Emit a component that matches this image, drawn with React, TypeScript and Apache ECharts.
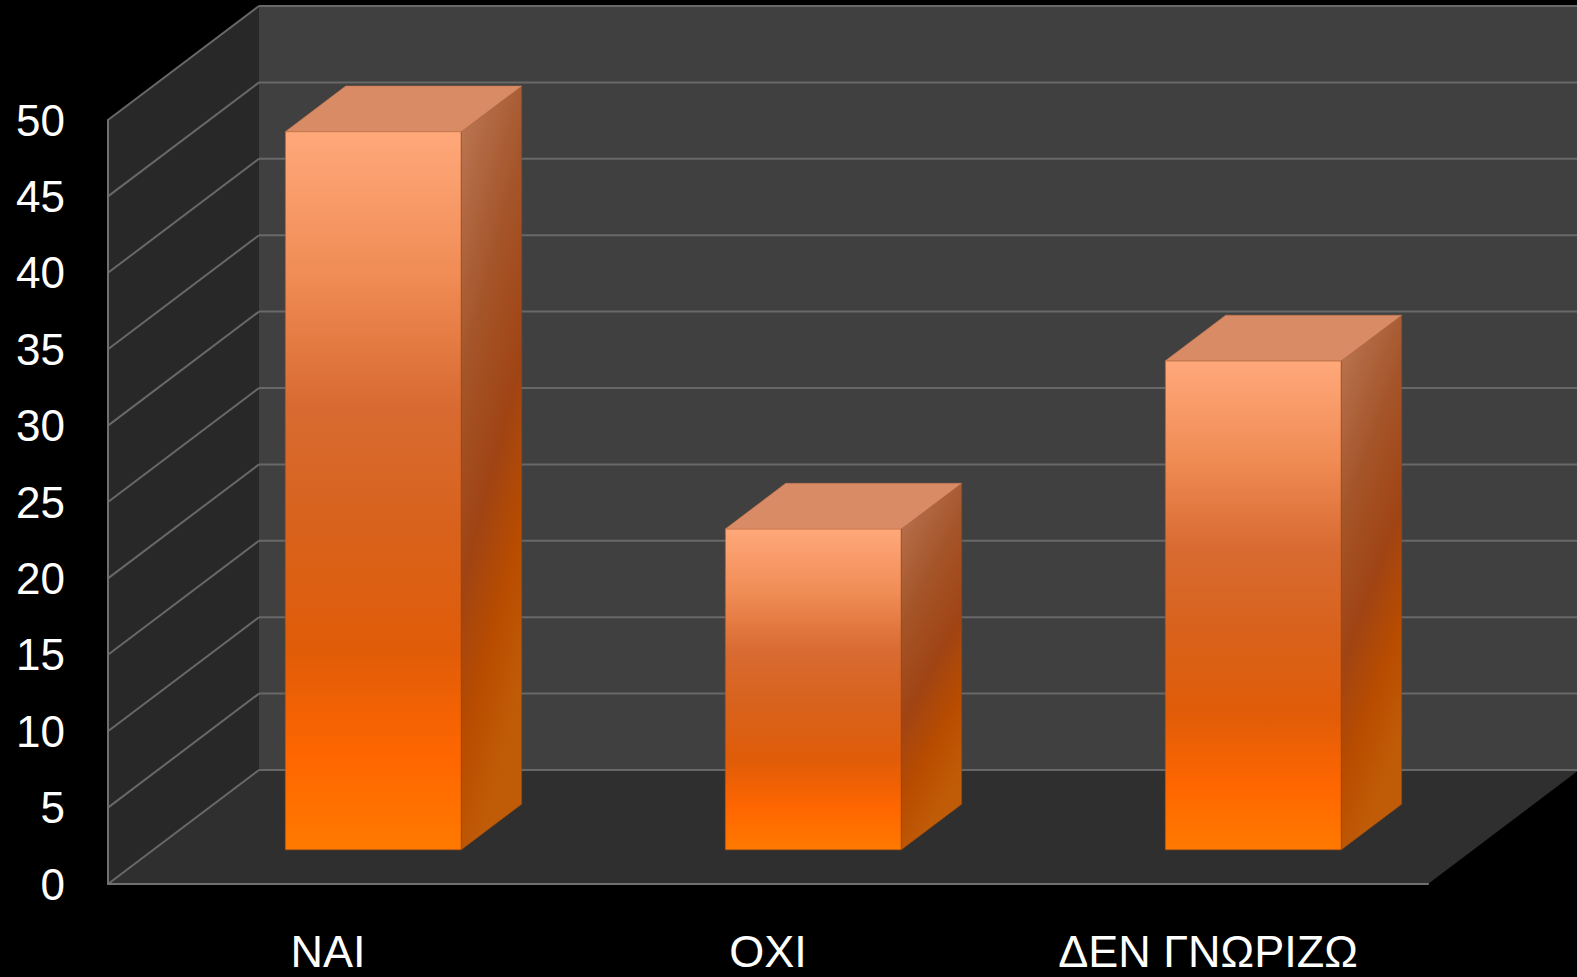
import React, { useEffect, useRef } from "react";
import * as echarts from "echarts";

const categories = ["NAI", "OXI", "ΔΕΝ ΓΝΩΡΙΖΩ"];
const values = [47, 21, 32];
const yTicks = [0, 5, 10, 15, 20, 25, 30, 35, 40, 45, 50];

const DX = 151;
const DY = -114;
const BAR_FRONT = 0.3;
const BAR_BACK = 0.7;
const BAR_WIDTH = 0.4;
const FONT = "'Liberation Sans', Arial, sans-serif";
const GRID_COLOR = "#686868";

export default function App() {
  const ref = useRef<HTMLDivElement>(null);

  useEffect(() => {
    if (!ref.current) return;
    const chart = echarts.init(ref.current, undefined, { renderer: "svg" });

    const frontGrad = () =>
      new echarts.graphic.LinearGradient(0, 0, 0, 1, [
        { offset: 0, color: "#FFA87A" },
        { offset: 0.2, color: "#F08C55" },
        { offset: 0.38, color: "#D86B32" },
        { offset: 0.55, color: "#D8621C" },
        { offset: 0.72, color: "#E05C08" },
        { offset: 0.87, color: "#FF6600" },
        { offset: 1, color: "#FF7A00" },
      ]);
    const sideGrad = () =>
      new echarts.graphic.LinearGradient(0, 0, 0.3, 1, [
        { offset: 0, color: "#BC7A58" },
        { offset: 0.35, color: "#A5552A" },
        { offset: 0.6, color: "#A04414" },
        { offset: 0.8, color: "#B84C00" },
        { offset: 1, color: "#C05C08" },
      ]);

    chart.setOption({
      animation: false,
      backgroundColor: "#000000",
      grid: { left: 108, right: 149, top: 120, bottom: 93, containLabel: false },
      xAxis: {
        type: "category",
        data: categories,
        boundaryGap: true,
        axisLine: { show: true, lineStyle: { color: "#707070", width: 2 } },
        axisTick: { show: false },
        splitLine: { show: false },
        axisLabel: {
          interval: 0,
          color: "#ffffff",
          fontSize: 45,
          lineHeight: 45,
          fontFamily: FONT,
          margin: 45,
        },
        z: 10,
      },
      yAxis: {
        type: "value",
        min: 0,
        max: 50,
        interval: 5,
        axisLine: { show: true, lineStyle: { color: "#707070", width: 2 } },
        axisTick: { show: false },
        splitLine: { show: false },
        axisLabel: {
          color: "#ffffff",
          fontSize: 44,
          fontFamily: FONT,
          margin: 43,
        },
        z: 10,
      },
      series: [
        {
          type: "custom",
          name: "walls",
          silent: true,
          z: 1,
          data: [[0, 0]],
          renderItem: (params: any, api: any) => {
            const cs = params.coordSys;
            const x = cs.x, y = cs.y, w = cs.width, h = cs.height;
            return {
              type: "group",
              children: [
                {
                  type: "polygon",
                  shape: { points: [[x + DX, y + DY], [x + w + DX, y + DY], [x + w + DX, y + h + DY], [x + DX, y + h + DY]] },
                  style: { fill: "#404040" },
                },
                {
                  type: "polygon",
                  shape: { points: [[x, y + h], [x + DX, y + h + DY], [x + DX, y + DY], [x, y]] },
                  style: { fill: "#282828" },
                },
                {
                  type: "polygon",
                  shape: { points: [[x, y + h], [x + w, y + h], [x + w + DX, y + h + DY], [x + DX, y + h + DY]] },
                  style: { fill: "#2f2f2f" },
                },
              ],
            };
          },
        },
        {
          type: "custom",
          name: "gridlines",
          silent: true,
          z: 2,
          data: yTicks.map((v) => [0, v]),
          renderItem: (params: any, api: any) => {
            const cs = params.coordSys;
            const p = api.coord([0, api.value(1)]);
            const py = p[1];
            return {
              type: "group",
              children: [
                {
                  type: "line",
                  shape: { x1: cs.x, y1: py, x2: cs.x + DX, y2: py + DY },
                  style: { stroke: GRID_COLOR, lineWidth: 2 },
                },
                {
                  type: "line",
                  shape: { x1: cs.x + DX, y1: py + DY, x2: cs.x + cs.width + DX, y2: py + DY },
                  style: { stroke: GRID_COLOR, lineWidth: 2 },
                },
              ],
            };
          },
        },
        {
          type: "custom",
          name: "bars",
          z: 3,
          data: values.map((v, i) => [i, v]),
          renderItem: (params: any, api: any) => {
            const idx = api.value(0);
            const val = api.value(1);
            const base = api.coord([idx, 0]);
            const top = api.coord([idx, val]);
            const bw = api.size([1, 0])[0] * BAR_WIDTH;
            const fx = base[0] - bw / 2 + BAR_FRONT * DX;
            const fyb = base[1] + BAR_FRONT * DY;
            const fyt = top[1] + BAR_FRONT * DY;
            const ddx = (BAR_BACK - BAR_FRONT) * DX;
            const ddy = (BAR_BACK - BAR_FRONT) * DY;
            return {
              type: "group",
              children: [
                {
                  type: "rect",
                  shape: { x: fx, y: fyt, width: bw, height: fyb - fyt },
                  style: { fill: frontGrad(), stroke: "rgba(170,80,20,0.6)", lineWidth: 1 },
                },
                {
                  type: "polygon",
                  shape: { points: [[fx + bw, fyt], [fx + bw + ddx, fyt + ddy], [fx + bw + ddx, fyb + ddy], [fx + bw, fyb]] },
                  style: { fill: sideGrad(), stroke: "rgba(150,70,20,0.5)", lineWidth: 1 },
                },
                {
                  type: "polygon",
                  shape: { points: [[fx, fyt], [fx + ddx, fyt + ddy], [fx + bw + ddx, fyt + ddy], [fx + bw, fyt]] },
                  style: { fill: "#D98B66", stroke: "rgba(200,120,80,0.6)", lineWidth: 1 },
                },
              ],
            };
          },
        },
      ],
    });

    return () => chart.dispose();
  }, []);

  return (
    <div
      ref={ref}
      style={{ position: "fixed", left: 0, top: 0, width: "1577px", height: "977px", background: "#000" }}
    />
  );
}
